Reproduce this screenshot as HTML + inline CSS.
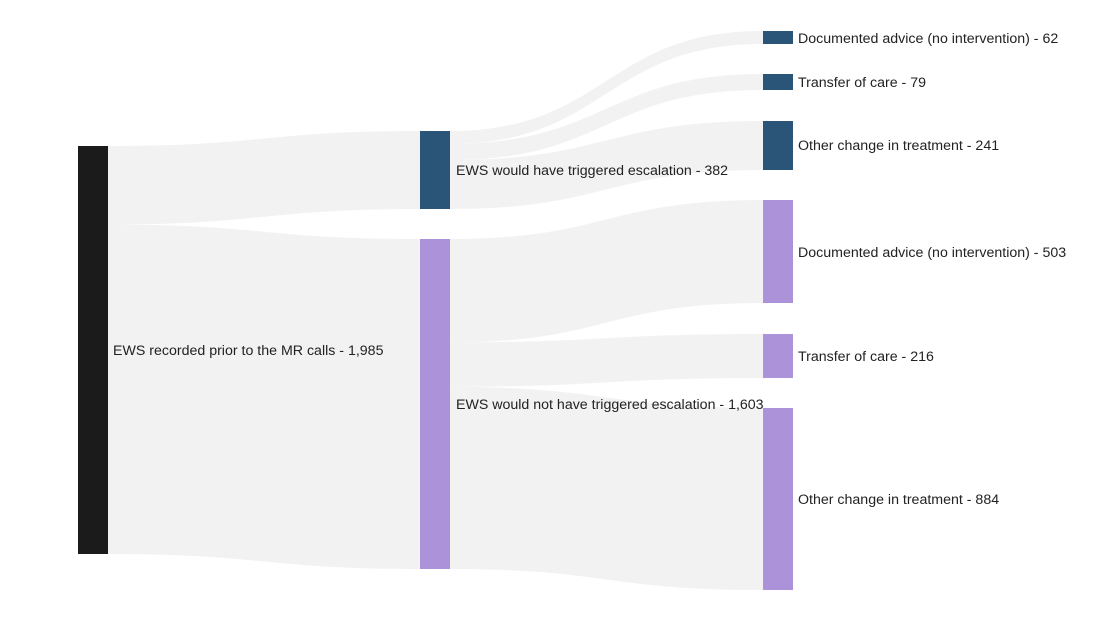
<!DOCTYPE html>
<html><head><meta charset="utf-8"><style>
html,body{margin:0;padding:0;background:#fff;}
svg text{font-family:"Liberation Sans",Arial,sans-serif;font-size:14.2px;fill:#222;dominant-baseline:central;}
</style></head><body>
<svg width="1110" height="620" xmlns="http://www.w3.org/2000/svg">
<g fill="#f2f2f2">
<path d="M108,146 C264,146 264,131 420,131 L420,209 C264,209 264,224.5 108,224.5 Z"/>
<path d="M108,224.5 C264,224.5 264,239 420,239 L420,569 C264,569 264,554 108,554 Z"/>
<path d="M450,131 C606,131 606,31 763,31 L763,44 C606,44 606,143.7 450,143.7 Z"/>
<path d="M450,143.7 C606,143.7 606,74 763,74 L763,90 C606,90 606,160 450,160 Z"/>
<path d="M450,160 C606,160 606,121 763,121 L763,170 C606,170 606,209 450,209 Z"/>
<path d="M450,239 C606,239 606,200 763,200 L763,303 C606,303 606,342.4 450,342.4 Z"/>
<path d="M450,342.4 C606,342.4 606,334 763,334 L763,378 C606,378 606,386.8 450,386.8 Z"/>
<path d="M450,386.8 C606,386.8 606,408 763,408 L763,590 C606,590 606,569 450,569 Z"/>
</g>
<rect x="78" y="146" width="30" height="408" fill="#1b1b1b"/>
<rect x="420" y="131" width="30" height="78" fill="#2a5578"/>
<rect x="420" y="239" width="30" height="330" fill="#ac92d8"/>
<rect x="763" y="31" width="30" height="13" fill="#2a5578"/>
<rect x="763" y="74" width="30" height="16" fill="#2a5578"/>
<rect x="763" y="121" width="30" height="49" fill="#2a5578"/>
<rect x="763" y="200" width="30" height="103" fill="#ac92d8"/>
<rect x="763" y="334" width="30" height="44" fill="#ac92d8"/>
<rect x="763" y="408" width="30" height="182" fill="#ac92d8"/>
<text x="113" y="351">EWS recorded prior to the MR calls - 1,985</text>
<text x="456" y="171">EWS would have triggered escalation - 382</text>
<text x="456" y="405">EWS would not have triggered escalation - 1,603</text>
<text x="798" y="39">Documented advice (no intervention) - 62</text>
<text x="798" y="83">Transfer of care - 79</text>
<text x="798" y="146">Other change in treatment - 241</text>
<text x="798" y="253">Documented advice (no intervention) - 503</text>
<text x="798" y="357">Transfer of care - 216</text>
<text x="798" y="500">Other change in treatment - 884</text>
</svg>
</body></html>
